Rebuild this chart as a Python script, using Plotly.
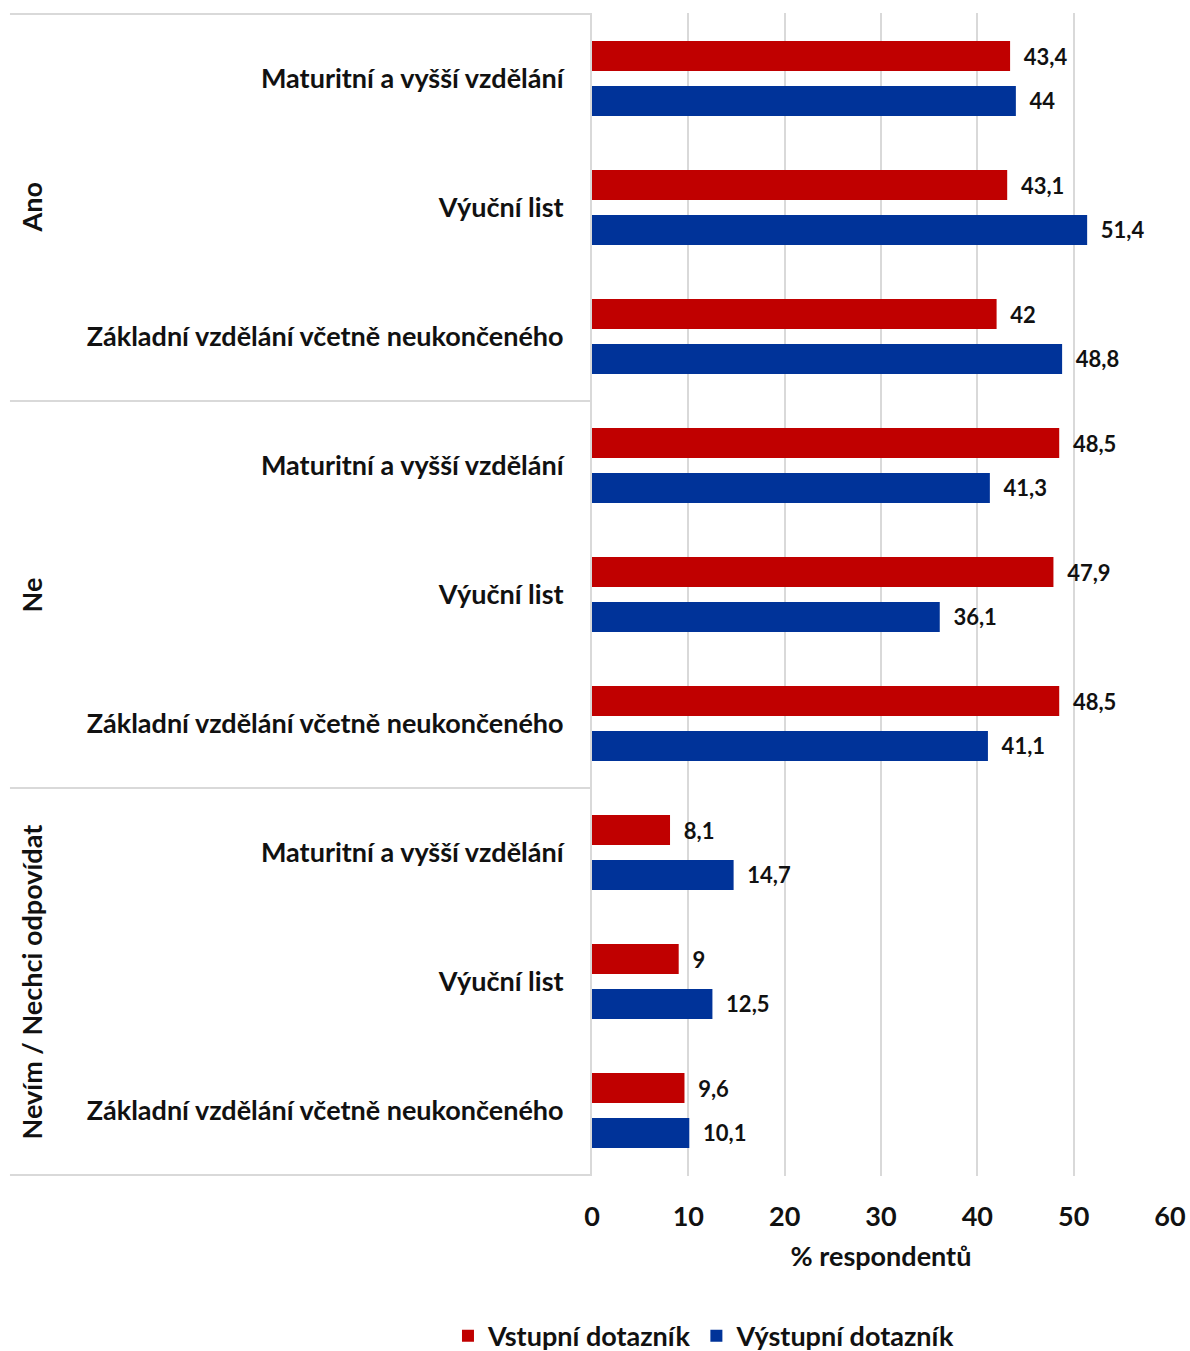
import plotly.graph_objects as go

groups = ["Ano", "Ne", "Nevím / Nechci odpovídat"]
subcats = ["Maturitní a vyšší vzdělání", "Výuční list", "Základní vzdělání včetně neukončeného"]

vstupni = [43.4, 43.1, 42, 48.5, 47.9, 48.5, 8.1, 9, 9.6]
vystupni = [44, 51.4, 48.8, 41.3, 36.1, 41.1, 14.7, 12.5, 10.1]

series_names = ["Vstupní dotazník", "Výstupní dotazník"]
colors = ["#C00000", "#003399"]

FONT = "Lato"

# unique keys for the category axis, shown with the plain subcategory names
keys = [g + "|" + s for g in groups for s in subcats]
labels = [s for g in groups for s in subcats]


def fmt(v):
    return "\u00a0\u00a0" + ("%g" % v).replace(".", ",")


fig = go.Figure()
for name, vals, col in zip(series_names, [vstupni, vystupni], colors):
    fig.add_trace(go.Bar(
        y=keys, x=vals, name=name, orientation="h",
        marker=dict(color=col, line=dict(width=0)),
        text=[fmt(v) for v in vals], textposition="outside",
        textfont=dict(family=FONT, size=22, color="#111", weight="bold"),
        cliponaxis=False,
    ))

# group dividers and rotated group labels in the left label area
n = len(subcats)
edges = [i * n - 0.5 for i in range(len(groups) + 1)]
for e in edges:
    fig.add_shape(type="line", xref="paper", yref="y", x0=-1.007, x1=0, y0=e, y1=e,
                  line=dict(color="#d9d9d9", width=2))
for i, g in enumerate(groups):
    fig.add_annotation(text=g, xref="paper", yref="y", x=-0.969, y=i * n + (n - 1) / 2,
                       textangle=-90, showarrow=False, xanchor="center", yanchor="middle",
                       font=dict(family=FONT, size=27, color="#111", weight="bold"))

fig.update_layout(
    width=1190, height=1351,
    margin=dict(l=592, r=20, t=13, b=175),
    plot_bgcolor="white", paper_bgcolor="white",
    barmode="group", bargap=0.303, bargroupgap=0.333,
    font=dict(family=FONT, size=24, color="#111", weight="bold"),
    legend=dict(orientation="h", x=0.592, xref="container", xanchor="center",
                y=0.011, yref="container", yanchor="middle",
                font=dict(family=FONT, size=27, color="#111", weight="bold"),
                itemwidth=30),
    showlegend=True,
)
fig.update_xaxes(range=[0, 60], dtick=10, showgrid=True, gridcolor="#d9d9d9", gridwidth=2,
                 zeroline=False, showline=False, automargin=False,
                 ticklabelstandoff=22,
                 title=dict(text="% respondentů", standoff=16,
                            font=dict(family=FONT, size=27, color="#111", weight="bold")),
                 tickfont=dict(family=FONT, size=27, weight="bold"))
fig.update_yaxes(autorange="reversed", tickmode="array", tickvals=keys, ticktext=labels,
                 showline=True, linecolor="#d9d9d9", linewidth=2, automargin=False,
                 ticklabelstandoff=21,
                 tickfont=dict(family=FONT, size=27, weight="bold"))

fig.write_html("out.html", config={"displayModeBar": False},
               post_script="document.body.style.margin='0';")
